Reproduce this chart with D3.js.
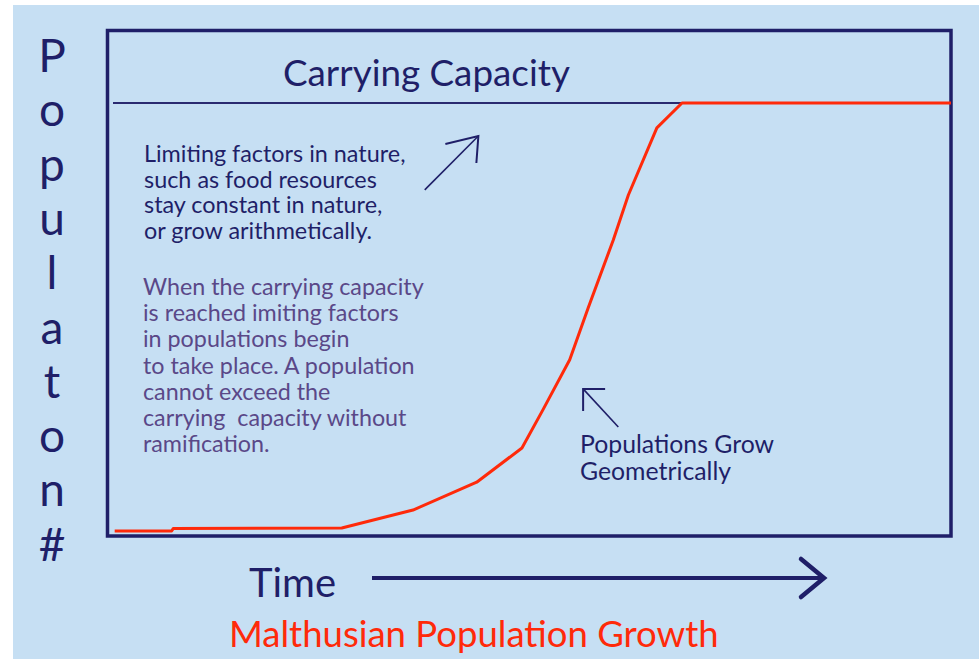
<!DOCTYPE html>
<html>
<head>
<meta charset="utf-8">
<script src="https://cdn.jsdelivr.net/npm/d3@7"></script>
<style>
  html, body { margin: 0; padding: 0; background: #ffffff; }
  svg { display: block; }
</style>
</head>
<body>
<div id="chart"></div>
<script>
// population curve (time 0..100, population as % of capacity)
var timeSteps  = [0.2, 7.0, 7.2, 27.3, 35.8, 43.4, 48.8, 51.3, 54.5, 56.7, 59.7, 61.5, 64.9, 67.9, 100];
var population = [0,   0,   0.6, 0.7,  4.9,  11.4, 19.4, 28.3, 40.0, 52.1, 68.0, 78.5, 94.2, 100,  100];
var carryingCapacity = 100;

// the picture spells the stacked label without the "i"
var yLabel = "Populaton#";
var noteLimiting = ["Limiting factors in nature,", "such as food resources", "stay constant in nature,", "or grow arithmetically."];
var noteCapacity = ["When the carrying capacity", "is reached imiting factors", "in populations begin", "to take place. A population", "cannot exceed the", "carrying  capacity without", "ramification."];
var noteGrow = ["Populations Grow", "Geometrically"];

var W = 979, H = 659;
var navy = "#1f1f68", purple = "#5a4888", red = "#ff2a0a", bg = "#c6dff3";
var font = "Lato, 'DejaVu Sans', sans-serif";

var svg = d3.select("#chart").append("svg")
  .attr("width", W)
  .attr("height", H);

// light blue panel
svg.append("rect")
  .attr("x", 13).attr("y", 5)
  .attr("width", W - 13).attr("height", H - 5)
  .attr("fill", bg);

// scales
var x = d3.scaleLinear().domain([0, 100]).range([113, 951]);
var y = d3.scaleLinear().domain([0, 100]).range([531, 103]);

// frame
svg.append("rect")
  .attr("x", 107.5).attr("y", 30.5)
  .attr("width", 951 - 107.5).attr("height", 536 - 30.5)
  .attr("fill", "none")
  .attr("stroke", navy)
  .attr("stroke-width", 3.5);

// carrying capacity line
svg.append("line")
  .attr("x1", x(0)).attr("x2", x(100))
  .attr("y1", y(carryingCapacity)).attr("y2", y(carryingCapacity))
  .attr("stroke", "#2a2a70")
  .attr("stroke-width", 2);

svg.append("text")
  .attr("x", 283).attr("y", 86)
  .attr("font-family", font)
  .attr("font-size", 36.8)
  .attr("fill", navy)
  .text("Carrying Capacity");

// growth curve
var pts = timeSteps.map(function(t, i) { return [t, population[i]]; });
var line = d3.line()
  .x(function(d) { return x(d[0]); })
  .y(function(d) { return y(d[1]); });

svg.append("path")
  .datum(pts)
  .attr("d", line)
  .attr("fill", "none")
  .attr("stroke", red)
  .attr("stroke-width", 3)
  .attr("stroke-linejoin", "round");

// vertical y label, one letter per row
svg.append("g").selectAll("text")
  .data(yLabel.split(""))
  .join("text")
  .attr("x", 52)
  .attr("y", function(d, i) { return 72 + i * 54.3; })
  .attr("text-anchor", "middle")
  .attr("font-family", font)
  .attr("font-size", 46)
  .attr("fill", navy)
  .text(function(d) { return d; });

// text notes
function block(lines, x0, y0, step, size, color) {
  svg.append("g").selectAll("text")
    .data(lines)
    .join("text")
    .attr("x", x0)
    .attr("y", function(d, i) { return y0 + i * step; })
    .attr("font-family", font)
    .attr("font-size", size)
    .attr("fill", color)
    .style("white-space", "pre")
    .text(function(d) { return d; });
}
block(noteLimiting, 144, 162, 25.5, 23.4, navy);
block(noteCapacity, 143, 295, 26.2, 23.3, purple);
block(noteGrow, 580, 453, 27, 24.8, navy);

// annotation arrows
function arrow(t0, p0, t1, p1, wings) {
  var tx = x(t1), ty = y(p1);
  svg.append("line")
    .attr("x1", x(t0)).attr("y1", y(p0))
    .attr("x2", tx).attr("y2", ty)
    .attr("stroke", navy).attr("stroke-width", 1.6);
  svg.append("path")
    .attr("d", "M" + (tx + wings[0][0]) + "," + (ty + wings[0][1]) +
               "L" + tx + "," + ty +
               "L" + (tx + wings[1][0]) + "," + (ty + wings[1][1]))
    .attr("fill", "none")
    .attr("stroke", navy).attr("stroke-width", 2)
    .attr("stroke-linejoin", "miter");
}
arrow(37.2, 79.7, 43.6, 92.3, [[-33, 8], [-2, 27]]);
arrow(60.3, 24.3, 56.1, 33.2, [[22, 0], [0, 22]]);

// time arrow
svg.append("text")
  .attr("x", 249).attr("y", 597)
  .attr("font-family", font)
  .attr("font-size", 40)
  .attr("fill", navy)
  .text("Time");

svg.append("line")
  .attr("x1", 372).attr("x2", 822)
  .attr("y1", 578).attr("y2", 578)
  .attr("stroke", navy).attr("stroke-width", 4);
svg.append("path")
  .attr("d", "M801,559L824,578L801,597")
  .attr("fill", "none")
  .attr("stroke", navy).attr("stroke-width", 4.5)
  .attr("stroke-linecap", "round");

// caption
svg.append("text")
  .attr("x", 229).attr("y", 647)
  .attr("font-family", font)
  .attr("font-size", 36.5)
  .attr("fill", red)
  .text("Malthusian Population Growth");
</script>
</body>
</html>
